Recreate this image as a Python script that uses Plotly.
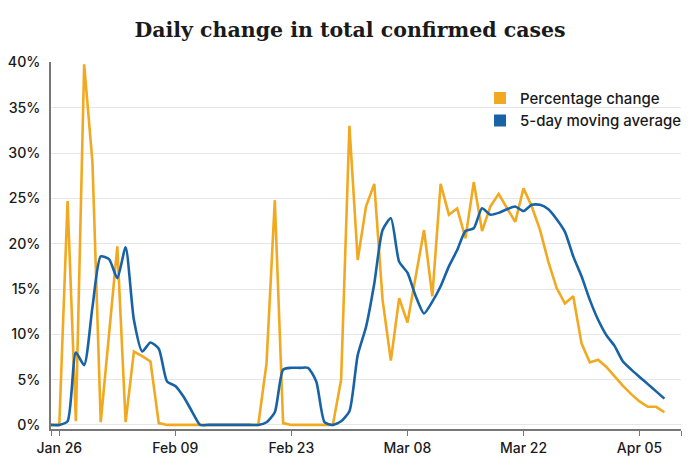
import plotly.graph_objects as go
import pandas as pd

dates = pd.date_range("2020-01-25", "2020-04-08", freq="D")

pct_change = [
    0, 0, 24.7, 0.4, 39.8, 29.0, 0.3, 10.0, 19.7, 0.3,
    8.1, 7.6, 7.0, 0.2, 0, 0, 0, 0, 0, 0,
    0, 0, 0, 0, 0, 0, 6.8, 24.8, 0.2, 0,
    0, 0, 0, 0, 0, 5.0, 33.0, 18.2, 24.1, 26.6,
    13.8, 7.1, 14.0, 11.3, 16.4, 21.5, 14.2, 26.6, 23.2, 23.9,
    20.6, 26.8, 21.4, 24.1, 25.5, 24.0, 22.4, 26.1, 24.1, 21.5,
    18.0, 15.1, 13.4, 14.2, 9.0, 6.9, 7.2, 6.4, 5.3, 4.3,
    3.4, 2.6, 2.0, 2.0, 1.4,
]

moving_avg = [
    0, 0, 0.4, 8.0, 6.6, 13.0, 18.6, 18.3, 16.2, 19.6,
    11.6, 8.1, 9.1, 8.4, 4.8, 4.3, 3.1, 1.5, 0, 0,
    0, 0, 0, 0, 0, 0, 0.3, 1.4, 6.1, 6.3,
    6.3, 6.3, 4.8, 0.3, 0, 0.4, 1.5, 7.7, 10.8, 15.6,
    21.5, 22.8, 18.0, 16.8, 14.2, 12.3, 13.6, 15.3, 17.5, 19.3,
    21.4, 21.7, 23.9, 23.2, 23.4, 23.8, 24.1, 23.6, 24.3, 24.3,
    23.8, 22.7, 21.3, 18.6, 16.4, 13.8, 11.6, 9.9, 8.7, 7.0,
    6.1, 5.3, 4.5, 3.7, 2.9,
]

tick_dates = ["2020-01-25", "2020-01-26", "2020-02-09", "2020-02-23", "2020-03-08",
              "2020-03-22", "2020-04-05", "2020-04-10"]
tick_labels = ["", "Jan 26", "Feb 09", "Feb 23", "Mar 08", "Mar 22", "Apr 05", ""]

y_ticks = [0, 5, 10, 15, 20, 25, 30, 35, 40]
y_labels = [f"{v}%" for v in y_ticks]

ORANGE = "#F2A922"
BLUE = "#1763A6"
SANS = "Inter, Roboto, sans-serif"

fig = go.Figure()
fig.add_trace(go.Scatter(x=dates, y=pct_change, mode="lines",
                         line=dict(color=ORANGE, width=2.6), showlegend=False))
fig.add_trace(go.Scatter(x=dates, y=moving_avg, mode="lines",
                         line=dict(color=BLUE, width=2.6, shape="spline", smoothing=0.6),
                         showlegend=False))
# legend entries as squares
fig.add_trace(go.Scatter(x=[None], y=[None], mode="markers", name="Percentage change",
                         marker=dict(symbol="square", size=12, color=ORANGE)))
fig.add_trace(go.Scatter(x=[None], y=[None], mode="markers", name="5-day moving average",
                         marker=dict(symbol="square", size=12, color=BLUE)))

# the page body has an 8px default margin, so the figure is offset by 8px
fig.update_layout(
    width=700, height=467,
    margin=dict(l=43, r=27, t=54, b=46, autoexpand=False),
    paper_bgcolor="white", plot_bgcolor="white",
    title=dict(text="<b>Daily change in total confirmed cases</b>", x=0.4886, xanchor="center",
               y=0.953, yanchor="middle", yref="container",
               font=dict(family="DejaVu Serif", size=20.5, color="#1a1a1a")),
    font=dict(family=SANS, size=13, color="#222"),
    legend=dict(x=0.681, y=0.946, xanchor="left", yanchor="top",
                font=dict(family=SANS, size=15, color="#1a1a1a", weight=500),
                bgcolor="rgba(0,0,0,0)", itemwidth=30, tracegroupgap=0),
    showlegend=True,
)
fig.update_xaxes(
    range=["2020-01-25", "2020-04-10"],
    tickvals=tick_dates, ticktext=tick_labels,
    showgrid=False, showline=True, linecolor="#777", linewidth=1.5,
    ticks="outside", ticklen=5, tickcolor="#777",
    tickfont=dict(family=SANS, size=14, color="#1a1a1a", weight=500),
    zeroline=False, automargin=False,
)
fig.update_yaxes(
    range=[-0.45, 40.05],
    tickvals=y_ticks, ticktext=y_labels,
    showgrid=True, gridcolor="#e6e6e6", gridwidth=1,
    showline=True, linecolor="#777", linewidth=1.5,
    ticks="", ticklabelstandoff=6,
    tickfont=dict(family=SANS, size=14.2, color="#1a1a1a", weight=500),
    zeroline=False, automargin=False,
)

fig.write_html("out.html")
